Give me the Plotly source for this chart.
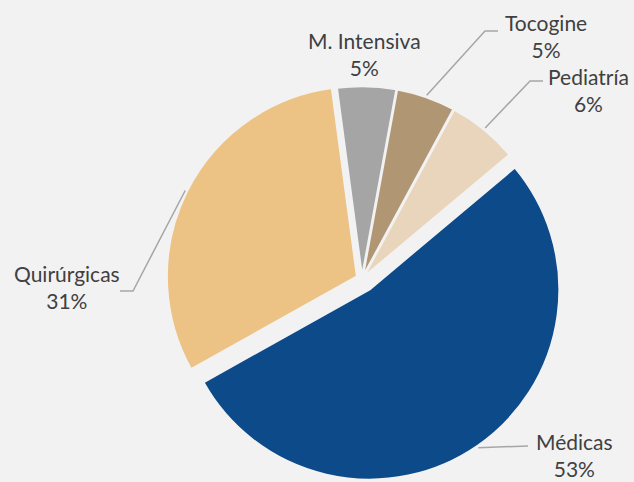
import math
import plotly.graph_objects as go

# ---- data ----
categories = ["Médicas", "Quirúrgicas", "M. Intensiva", "Tocogine", "Pediatría"]
values = [53, 31, 5, 5, 6]

# ---- style ----
colors = ["#0c4a8a", "#ecc285", "#a5a5a5", "#b09672", "#e8d5bb"]
pulls = [0.068, 0.03, 0.015, 0.015, 0.015]
BG = "#f2f2f2"
W, H = 634, 482
CX, CY, R = 362, 279, 190          # pie centre / radius in px
ROT = 50                           # start angle of first slice (clockwise from 12 o'clock)
# label centre (px) and leader line elbow / end (px) for each slice
label_pos = [(574, 455), (67, 287), (364, 54), (546, 36), (588, 90)]
leader = [
    [(528, 446)],
    [(133, 291), (120, 291)],
    None,
    [(485, 31), (498, 31)],
    [(530, 81), (543, 81)],
]

half = R * (1 + max(pulls))
dom_x = [(CX - half) / W, (CX + half) / W]
dom_y = [(H - CY - half) / H, (H - CY + half) / H]

fig = go.Figure(go.Pie(
    labels=categories, values=values, sort=False, direction="clockwise",
    rotation=ROT, pull=pulls, textinfo="none", hoverinfo="label+percent",
    marker=dict(colors=colors, line=dict(color=BG, width=2)),
    domain=dict(x=dom_x, y=dom_y), showlegend=False,
))

total = sum(values)
cum = 0
shapes = []
annotations = []
for i, (cat, v) in enumerate(zip(categories, values)):
    mid = ROT + (cum + v / 2) / total * 360
    cum += v
    a = math.radians(mid)
    rr = R * (1 + pulls[i]) + 2
    sx, sy = CX + rr * math.sin(a), CY - rr * math.cos(a)
    pct = round(v / total * 100)
    lx, ly = label_pos[i]
    annotations.append(dict(
        x=lx / W, y=1 - ly / H, xref="paper", yref="paper",
        text=f"{cat}<br>{pct}%", showarrow=False,
        font=dict(family="Lato", size=21, color="#404040"),
        xanchor="center", yanchor="middle", align="center",
    ))
    if leader[i]:
        pts = [(sx, sy)] + leader[i]
        path = "M " + " L ".join(f"{px / W},{1 - py / H}" for px, py in pts)
        shapes.append(dict(type="path", path=path, xref="paper", yref="paper",
                           line=dict(color="#a6a6a6", width=1.5)))

fig.update_layout(
    width=W, height=H, margin=dict(l=0, r=0, t=0, b=0),
    paper_bgcolor=BG, plot_bgcolor=BG,
    shapes=shapes, annotations=annotations,
)
fig.write_html(
    "out.html",
    config={"displayModeBar": False},
    post_script="document.body.style.margin='0';document.body.style.overflow='hidden';"
                "document.body.style.background='#f2f2f2';",
)
